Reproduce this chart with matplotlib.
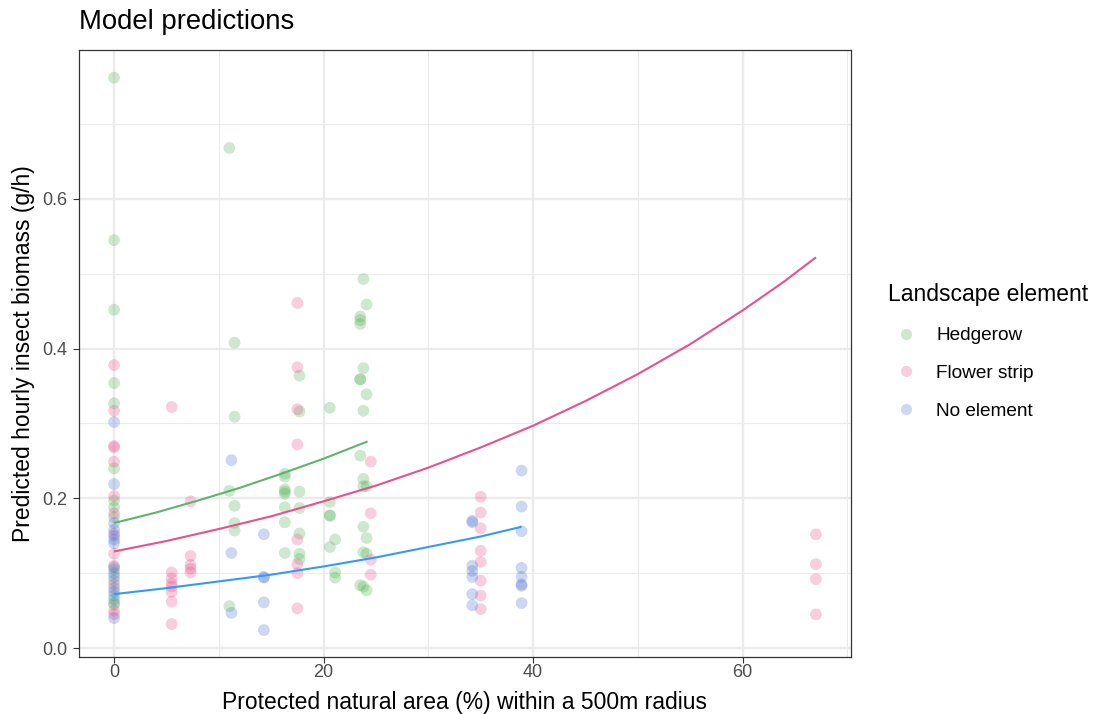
import matplotlib
matplotlib.use("Agg")
import matplotlib.pyplot as plt
from matplotlib.lines import Line2D
import numpy as np

plt.rcParams['font.family'] = ['Liberation Sans', 'DejaVu Sans']

# ---------------- data ----------------
groups = ["Hedgerow", "Flower strip", "No element"]

hedge_x = ([0]*14 + [11.0]*3 + [11.5]*5 + [16.3]*8 + [17.7]*7 + [20.6]*5 + [21.1]*3
           + [23.5]*7 + [23.8]*8 + [24.1]*6)
hedge_y = ([0.762, 0.545, 0.452, 0.354, 0.327, 0.240, 0.197, 0.188, 0.175, 0.105, 0.090, 0.070, 0.060, 0.058]
           + [0.668, 0.210, 0.056]
           + [0.408, 0.309, 0.190, 0.167, 0.157]
           + [0.233, 0.229, 0.212, 0.209, 0.206, 0.188, 0.168, 0.127]
           + [0.364, 0.316, 0.209, 0.187, 0.153, 0.126, 0.119]
           + [0.321, 0.195, 0.177, 0.177, 0.135]
           + [0.145, 0.101, 0.094]
           + [0.443, 0.438, 0.433, 0.359, 0.359, 0.257, 0.084]
           + [0.493, 0.374, 0.317, 0.226, 0.216, 0.162, 0.128, 0.082]
           + [0.459, 0.339, 0.216, 0.147, 0.126, 0.077])

flower_x = ([0]*13 + [5.5]*8 + [7.3]*5 + [17.5]*8 + [24.5]*4 + [35.0]*8 + [67.0]*4)
flower_y = ([0.378, 0.317, 0.270, 0.268, 0.249, 0.203, 0.180, 0.153, 0.126, 0.110, 0.085, 0.050, 0.045]
            + [0.322, 0.101, 0.093, 0.086, 0.082, 0.075, 0.062, 0.032]
            + [0.196, 0.123, 0.111, 0.106, 0.101]
            + [0.461, 0.375, 0.319, 0.272, 0.145, 0.112, 0.100, 0.053]
            + [0.249, 0.180, 0.118, 0.098]
            + [0.202, 0.181, 0.160, 0.130, 0.115, 0.090, 0.070, 0.052]
            + [0.152, 0.112, 0.092, 0.045])

none_x = ([0]*14 + [11.2]*3 + [14.3]*5 + [34.2]*7 + [38.9]*8)
none_y = ([0.302, 0.219, 0.167, 0.158, 0.150, 0.145, 0.140, 0.108, 0.100, 0.095, 0.080, 0.075, 0.065, 0.040]
          + [0.251, 0.127, 0.047]
          + [0.152, 0.095, 0.094, 0.061, 0.024]
          + [0.170, 0.168, 0.110, 0.103, 0.095, 0.072, 0.057]
          + [0.237, 0.189, 0.156, 0.107, 0.095, 0.085, 0.083, 0.060])

# model prediction curves
hedge_fit_x = [0, 4, 8, 12, 16, 20, 24.2]
hedge_fit_y = [0.167, 0.181, 0.197, 0.214, 0.233, 0.253, 0.276]
flower_fit_x = [0, 5, 10, 15, 20, 25, 30, 35, 40, 45, 50, 55, 60, 64, 67]
flower_fit_y = [0.129, 0.143, 0.159, 0.176, 0.196, 0.217, 0.241, 0.268, 0.297, 0.330,
                0.366, 0.406, 0.451, 0.490, 0.522]
none_fit_x = [0, 5, 10, 15, 20, 25, 30, 35, 38.9]
none_fit_y = [0.072, 0.080, 0.089, 0.098, 0.109, 0.121, 0.135, 0.149, 0.162]

x_ticks = [0, 20, 40, 60]
y_ticks = [0.0, 0.2, 0.4, 0.6]

# ---------------- style ----------------
point_cols = ["#4CAF50", "#E7508A", "#4A72D0"]
line_cols = ["#5DB56D", "#E8508E", "#3399FF"]
pt_alpha = 0.28

fig = plt.figure(figsize=(10.94, 7.14), dpi=100)
ax = fig.add_axes([79/1094, 57/714, (851-79)/1094, (657-50)/714])

pts = [(hedge_x, hedge_y), (flower_x, flower_y), (none_x, none_y)]
fits = [(hedge_fit_x, hedge_fit_y), (flower_fit_x, flower_fit_y), (none_fit_x, none_fit_y)]

for (px, py), c in zip(pts, point_cols):
    ax.scatter(px, py, s=72, color=c, alpha=pt_alpha, edgecolors='none', zorder=3)
for (fx, fy), c in zip(fits, line_cols):
    ax.plot(fx, fy, color=c, lw=1.5, zorder=4, solid_capstyle='butt', solid_joinstyle='round')

ax.set_xlim(-3.35, 70.35)
ax.set_ylim(-0.012, 0.799)
ax.set_xticks(x_ticks)
ax.set_xticklabels([str(v) for v in x_ticks])
ax.set_yticks(y_ticks)
ax.set_yticklabels([f"{v:.1f}" for v in y_ticks])
ax.set_xticks([10, 30, 50, 70], minor=True)
ax.set_yticks([0.1, 0.3, 0.5, 0.7], minor=True)

ax.grid(which='major', color='#EBEBEB', lw=1.7, zorder=0)
ax.grid(which='minor', color='#EBEBEB', lw=0.85, zorder=0)
ax.set_axisbelow(True)
ax.tick_params(which='major', length=4, width=0.8, color='#333333',
               labelsize=13, labelcolor='#4D4D4D')
ax.tick_params(axis='x', which='major', pad=1)
ax.tick_params(axis='y', which='major', pad=4.5)
ax.tick_params(which='minor', length=0)
for s in ax.spines.values():
    s.set_color('#333333')
    s.set_linewidth(0.9)

ax.set_xlabel("Protected natural area (%) within a 500m radius", fontsize=16.5, color='black', labelpad=7)
ax.set_ylabel("Predicted hourly insect biomass (g/h)", fontsize=16.5, color='black', labelpad=5)
fig.text(79/1094, 1 - 22/714, "Model predictions", fontsize=19.8, ha='left', va='center')

# legend
fig.text(888/1094, 1 - 294/714, "Landscape element", fontsize=16.5, ha='left', va='center')
handles = [Line2D([], [], marker='o', linestyle='none', markersize=8,
                  markerfacecolor=c, markeredgecolor='none', alpha=pt_alpha)
           for c in point_cols]
leg = fig.legend(handles, groups, loc='upper left',
                 bbox_to_anchor=(887/1094, 1 - 327/714), frameon=False,
                 fontsize=13.7, handletextpad=0.6,
                 labelspacing=1.07, borderpad=0.0, borderaxespad=0)

fig.savefig("out.png", dpi=100)
